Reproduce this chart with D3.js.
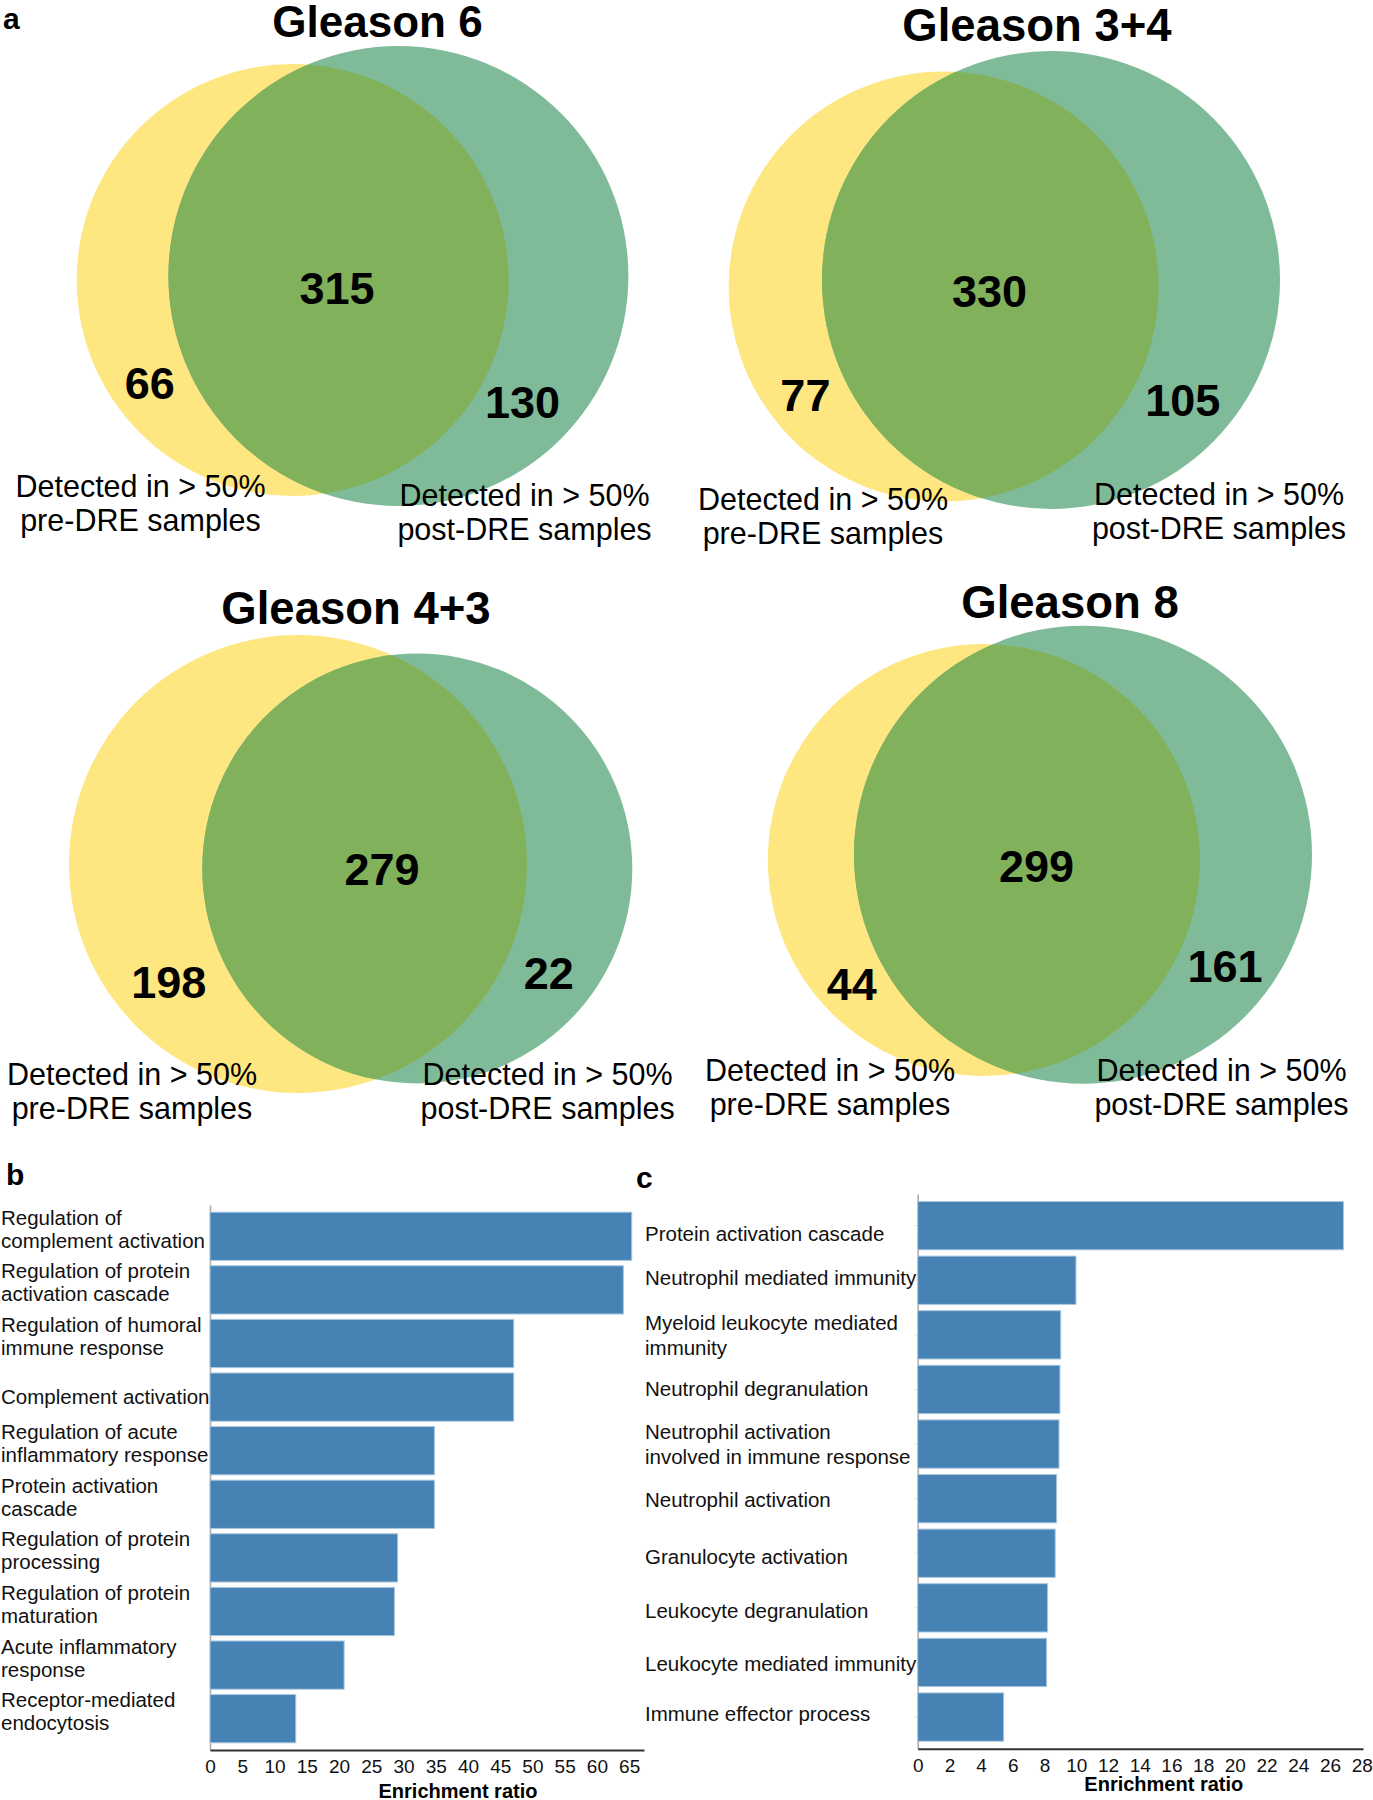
<!DOCTYPE html>
<html><head><meta charset="utf-8">
<script src="https://cdn.jsdelivr.net/npm/d3@7"></script>
<style>
html,body{margin:0;padding:0;background:#fff;}
svg{display:block;font-family:"Liberation Sans",Arial,Helvetica,sans-serif;}
</style></head><body>
<svg id="chart" width="1373" height="1800"></svg>
<script>
// ---------- Panel a data ----------
const vennTitles = ["Gleason 6", "Gleason 3+4", "Gleason 4+3", "Gleason 8"];
const preOnlyCounts = [66, 77, 198, 44];
const sharedCounts = [315, 330, 279, 299];
const postOnlyCounts = [130, 105, 22, 161];
const preLabelLines = ["Detected in > 50%", "pre-DRE samples"];
const postLabelLines = ["Detected in > 50%", "post-DRE samples"];

// ---------- Panel b data ----------
const bTerms = [
  "Regulation of\ncomplement activation",
  "Regulation of protein\nactivation cascade",
  "Regulation of humoral\nimmune response",
  "Complement activation",
  "Regulation of acute\ninflammatory response",
  "Protein activation\ncascade",
  "Regulation of protein\nprocessing",
  "Regulation of protein\nmaturation",
  "Acute inflammatory\nresponse",
  "Receptor-mediated\nendocytosis"
];
const bRatios = [65.4, 64.1, 47.1, 47.1, 34.8, 34.8, 29.1, 28.6, 20.8, 13.3];
const bTicks = [0, 5, 10, 15, 20, 25, 30, 35, 40, 45, 50, 55, 60, 65];

// ---------- Panel c data ----------
const cTerms = [
  "Protein activation cascade",
  "Neutrophil mediated immunity",
  "Myeloid leukocyte mediated\nimmunity",
  "Neutrophil degranulation",
  "Neutrophil activation\ninvolved in immune response",
  "Neutrophil activation",
  "Granulocyte activation",
  "Leukocyte degranulation",
  "Leukocyte mediated immunity",
  "Immune effector process"
];
const cRatios = [26.85, 9.98, 9.02, 8.97, 8.91, 8.76, 8.67, 8.19, 8.13, 5.42];
const cTicks = [0, 2, 4, 6, 8, 10, 12, 14, 16, 18, 20, 22, 24, 26, 28];

// ---------- layout (geometry only) ----------
const vennLayout = [
  {title:[377.5,36.5], tSize:44, pre:{cx:292.7,cy:280,r:216}, post:{cx:398.4,cy:276,r:230},
   nShared:[337,304], nPre:[149.7,399], nPost:[522.6,418], lPre:[140.5,497], lPost:[524.5,506]},
  {title:[1037,41], tSize:45.5, pre:{cx:943.7,cy:286.6,r:215}, post:{cx:1051,cy:280,r:229},
   nShared:[989.5,307], nPre:[805.4,411], nPost:[1182.8,416], lPre:[823,510], lPost:[1219,505]},
  {title:[356,624], tSize:45.5, pre:{cx:298,cy:864,r:229}, post:{cx:417.3,cy:868.5,r:215},
   nShared:[382,885], nPre:[168.8,998], nPost:[548.7,989], lPre:[132,1085], lPost:[547.6,1085]},
  {title:[1070,618], tSize:45.5, pre:{cx:983.9,cy:860,r:216}, post:{cx:1083,cy:854.7,r:229},
   nShared:[1036.6,882], nPre:[851.8,1000], nPost:[1225,982], lPre:[830,1081], lPost:[1221.5,1081]}
];
const cLabelNudge = [8, -2, 1, -1, 0, 1, 4, 3, 1, -3];
const COL_PRE = "#FEE680", COL_POST = "#7FBB98", COL_BOTH = "#81B25B", COL_BAR = "#4682B4";

const svg = d3.select("#chart");
const defs = svg.append("defs");

// panel letters
const letters = [["a",3,28.5],["b",6,1185],["c",636,1188]];
svg.selectAll("text.panel").data(letters).enter().append("text")
  .attr("class","panel").attr("x",d=>d[1]).attr("y",d=>d[2])
  .attr("font-size",30).attr("font-weight","bold").text(d=>d[0]);

// ---------- Venn diagrams ----------
vennTitles.forEach((title,i)=>{
  const L = vennLayout[i];
  const g = svg.append("g");
  const clipId = "clipPost"+i;
  defs.append("clipPath").attr("id",clipId).append("circle")
    .attr("cx",L.post.cx).attr("cy",L.post.cy).attr("r",L.post.r);
  g.append("circle").attr("cx",L.pre.cx).attr("cy",L.pre.cy).attr("r",L.pre.r).attr("fill",COL_PRE);
  g.append("circle").attr("cx",L.post.cx).attr("cy",L.post.cy).attr("r",L.post.r).attr("fill",COL_POST);
  g.append("circle").attr("cx",L.pre.cx).attr("cy",L.pre.cy).attr("r",L.pre.r)
    .attr("fill",COL_BOTH).attr("clip-path",`url(#${clipId})`);

  g.append("text").attr("x",L.title[0]).attr("y",L.title[1]).attr("text-anchor","middle")
    .attr("font-size",L.tSize).attr("font-weight","bold").text(title);

  const nums = [[sharedCounts[i],L.nShared],[preOnlyCounts[i],L.nPre],[postOnlyCounts[i],L.nPost]];
  nums.forEach(([v,p])=>{
    g.append("text").attr("x",p[0]).attr("y",p[1]).attr("text-anchor","middle")
      .attr("font-size",45).attr("font-weight","bold").text(v);
  });
  [[preLabelLines,L.lPre],[postLabelLines,L.lPost]].forEach(([lines,p])=>{
    const t = g.append("text").attr("x",p[0]).attr("y",p[1]).attr("text-anchor","middle")
      .attr("font-size",30.5);
    lines.forEach((ln,k)=>t.append("tspan").attr("x",p[0]).attr("y",p[1]+k*34).text(ln));
  });
});

// ---------- bar chart helper ----------
function barChart(cfg){
  const g = svg.append("g");
  const x = d3.scaleLinear().domain(cfg.xDomain).range(cfg.xRange);
  const y = d3.scaleBand().domain(cfg.terms).range(cfg.yRange)
    .paddingInner(cfg.padIn).paddingOuter(cfg.padOut);

  // y axis line
  const yAx = g.append("g").attr("transform",`translate(${cfg.xRange[0]},0)`)
    .call(d3.axisLeft(y).tickSize(cfg.yTick).tickSizeOuter(0).tickFormat(()=>""));
  yAx.select(".domain").attr("stroke","#aaa").attr("stroke-width",1.5);
  yAx.selectAll(".tick line").attr("stroke","#e2e2e2");

  // bars
  g.selectAll("rect.bar").data(cfg.terms).enter().append("rect")
    .attr("class","bar")
    .attr("x",x(0)).attr("y",d=>y(d))
    .attr("width",(d,i)=>x(cfg.values[i])-x(0))
    .attr("height",y.bandwidth())
    .attr("fill",COL_BAR).attr("stroke","#a9c7e0").attr("stroke-width",1);

  // labels
  cfg.terms.forEach((term,i)=>{
    const lines = term.split("\n");
    const cy = y(term)+y.bandwidth()/2 + (cfg.nudge ? cfg.nudge[i] : 0);
    const lh = cfg.lineH;
    const t = g.append("text").attr("font-size",cfg.labelSize).attr("fill","#111");
    const y0 = lines.length > 1 ? cy - (lines.length-1)*lh/2 + cfg.multiShift
                                : cy + 0.35*cfg.labelSize;
    lines.forEach((ln,k)=>t.append("tspan").attr("x",cfg.labelX).attr("y",y0+k*lh).text(ln));
  });

  // x axis
  const xAx = g.append("g").attr("transform",`translate(0,${cfg.yRange[1]})`)
    .call(d3.axisBottom(x).tickValues(cfg.ticks).tickSize(0).tickSizeOuter(0).tickPadding(9.5).tickFormat(d3.format("d")));
  xAx.select(".domain").attr("stroke","#333").attr("stroke-width",2);
  xAx.selectAll(".tick text").attr("font-size",19).attr("font-family","'Liberation Sans',Arial,sans-serif").attr("fill","#111");

  g.append("text").attr("x",cfg.titleX).attr("y",cfg.titleY).attr("text-anchor","middle")
    .attr("font-size",20).attr("font-weight","bold").text("Enrichment ratio");
}

barChart({terms:bTerms, values:bRatios, ticks:bTicks,
  xDomain:[0,67.3], xRange:[210,644], yRange:[1205,1750], padIn:0.1, padOut:0.134, yTick:0,
  labelX:1, labelSize:20.5, lineH:23, multiShift:0, titleX:458, titleY:1798});

barChart({terms:cTerms, values:cRatios, ticks:cTicks, nudge:cLabelNudge,
  xDomain:[0,28.08], xRange:[917.7,1363], yRange:[1194,1748.7], padIn:0.115, padOut:0.137, yTick:4,
  labelX:645, labelSize:20.5, lineH:25, multiShift:7, titleX:1163.8, titleY:1791});
</script>
</body></html>
